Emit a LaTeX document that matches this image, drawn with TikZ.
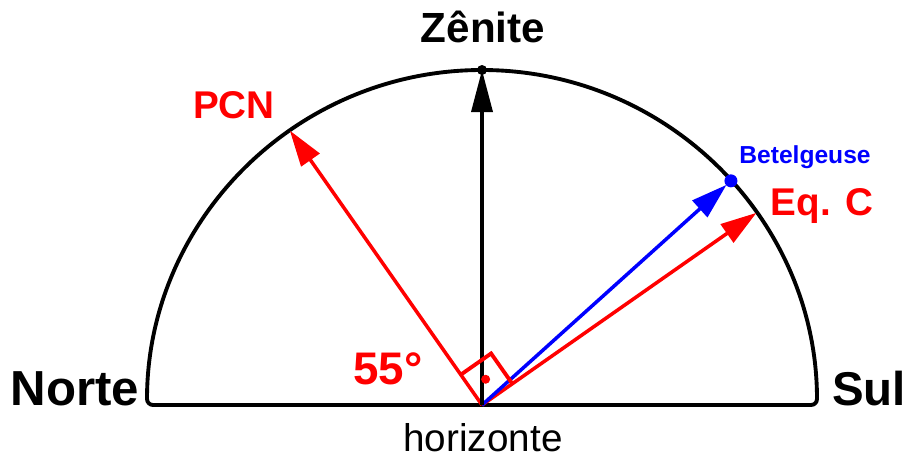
\documentclass[tikz,border=0pt]{standalone}
\usepackage{fontspec}
\setmainfont{Liberation Sans}
\usetikzlibrary{arrows.meta,calc}
\begin{document}
\begin{tikzpicture}[
  px/.style={line width=2.2pt},
  vec/.style={line width=2pt, -{Triangle[length=0.72cm,width=0.44cm]}},
  lbl/.style={inner sep=0pt, anchor=base, font=\bfseries},
]
\useasboundingbox (0,0) rectangle (18.28,9.14);
\coordinate (O) at (9.64,1.04);
\def\R{6.7}
% semicircle
\draw[px, rounded corners=0.12cm] ($(O)+(\R,0)$) arc[start angle=0,end angle=180,radius=\R] -- cycle;
\coordinate (Z) at ($(O)+(90:\R)$);
\coordinate (P) at ($(O)+(125:\R)$);
\coordinate (E) at ($(O)+(35:\R)$);
\coordinate (B) at ($(O)+(42:\R)$);
\coordinate (Bt) at ($(O)+(42:\R-0.12)$);
% vectors
\draw[vec, red] (O) -- (P);
\draw[vec, red] (O) -- (E);
\draw[vec, blue] (O) -- (Bt);
\draw[line width=2pt, -{Triangle[length=0.84cm,width=0.42cm]}, black] (O) -- (Z);
\fill[black] (Z) circle (0.1);
\fill[blue] (B) circle (0.13);
% right angle
\draw[px, red] ($(O)+(125:0.74)$) -- ++(35:0.74) -- ($(O)+(35:0.74)$);
\fill[red] ($(O)+(82:0.52)$) circle (0.09);
% labels
\node[lbl, font=\bfseries\fontsize{24}{28}\selectfont] (zen) at (9.66,8.3) {Zênite};
\node[lbl, red, font=\bfseries\fontsize{22}{26}\selectfont] (pcn) at (4.68,6.78) {PCN};
\node[lbl, blue, font=\bfseries\fontsize{14}{16}\selectfont] (bet) at (16.1,5.88) {Betelgeuse};
\node[lbl, red, font=\bfseries\fontsize{22}{26}\selectfont] (eqc) at (16.44,4.84) {Eq. C};
\node[lbl, red, font=\bfseries\fontsize{26}{30}\selectfont] (ang) at (7.76,1.46) {55°};
\node[lbl, font=\bfseries\fontsize{28}{32}\selectfont] (nor) at (1.5,1.04) {Norte};
\node[lbl, font=\bfseries\fontsize{27}{31}\selectfont] (sul) at (17.38,1.04) {Sul};
\node[lbl, font=\fontsize{22}{26}\selectfont] (hor) at (9.66,0.12) {horizonte};
\end{tikzpicture}
\end{document}
